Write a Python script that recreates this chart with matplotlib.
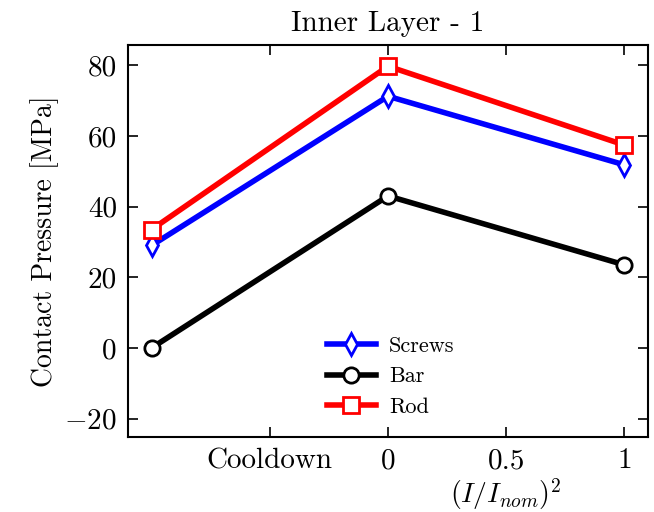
import matplotlib
matplotlib.use("Agg")
import matplotlib.pyplot as plt

plt.rcParams['font.family'] = 'serif'
plt.rcParams['font.serif'] = ['cmr10']
plt.rcParams['mathtext.fontset'] = 'cm'
plt.rcParams['axes.formatter.use_mathtext'] = True
plt.rcParams['axes.unicode_minus'] = True

x = [-1, 0, 1]
screws = [29.0, 71.2, 51.8]
bar = [0.0, 43.0, 23.5]
rod = [33.5, 79.7, 57.4]
xticks = [-0.5, 0, 0.5, 1]
xticklabels = ['Cooldown', '0', '0.5', '1']
yticks = [-20, 0, 20, 40, 60, 80]

fig = plt.figure(figsize=(6.54, 5.12), dpi=100)
ax = fig.add_axes([128/654, 1-437/512, 520/654, 392/512])

kw = dict(lw=4, markersize=11, markeredgewidth=2, markerfacecolor='white')
ax.plot(x, screws, color='blue', marker='d', label='Screws', **kw)
ax.plot(x, bar, color='black', marker='o', label='Bar', **kw)
ax.plot(x, rod, color='red', marker='s', label='Rod', **kw)

ax.set_xlim(-1.1, 1.1)
ax.set_ylim(-25.2, 85.7)
ax.set_xticks(xticks)
ax.set_xticklabels(xticklabels)
ax.set_yticks(yticks)
ax.set_yticklabels(['$-20$', '0', '20', '40', '60', '80'])
ax.tick_params(direction='in', top=True, right=True, length=7, width=1.2, labelsize=21, pad=8)
for s in ax.spines.values():
    s.set_linewidth(1.5)

ax.set_title('Inner Layer - 1', fontsize=21, pad=10)
ax.set_ylabel('Contact Pressure [MPa]', fontsize=20, labelpad=4)
ax.set_xlabel('$(I/I_{nom})^2$', fontsize=20)
ax.xaxis.set_label_coords(0.727, -0.1)

ax.legend(loc='lower center', bbox_to_anchor=(0.505, 0.0), frameon=False, fontsize=16,
          handlelength=2.2, handletextpad=0.6, labelspacing=0.5)

fig.savefig('out.png', dpi=100)
